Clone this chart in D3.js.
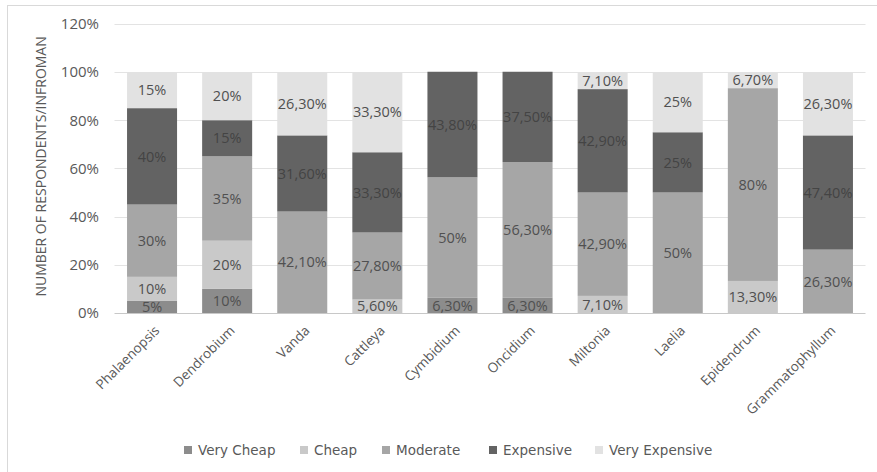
<!DOCTYPE html>
<html>
<head>
<meta charset="utf-8">
<script src="https://cdn.jsdelivr.net/npm/d3@7"></script>
<style>
  html, body { margin: 0; padding: 0; background: #fff; }
  svg { display: block; font-family: "Open Sans", "Liberation Sans", sans-serif; }
</style>
</head>
<body>
<svg id="chart" width="877" height="472"></svg>
<script>
// Orchid genera surveyed
const categories = ["Phalaenopsis", "Dendrobium", "Vanda", "Cattleya", "Cymbidium",
                    "Oncidium", "Miltonia", "Laelia", "Epidendrum", "Grammatophyllum"];

// Price perception shares (%) per genus, one array per price class
const veryCheap     = [5,  10, 0,    0,    6.3,  6.3,  0,    0,  0,    0];
const cheap         = [10, 20, 0,    5.6,  0,    0,    7.1,  0,  13.3, 0];
const moderate      = [30, 35, 42.1, 27.8, 50,   56.3, 42.9, 50, 80,   26.3];
const expensive     = [40, 15, 31.6, 33.3, 43.8, 37.5, 42.9, 25, 0,    47.4];
const veryExpensive = [15, 20, 26.3, 33.3, 0,    0,    7.1,  25, 6.7,  26.3];

const seriesNames = ["Very Cheap", "Cheap", "Moderate", "Expensive", "Very Expensive"];
const yTicks = [0, 20, 40, 60, 80, 100, 120];

const colors = ["#8c8c8c", "#c9c9c9", "#a6a6a6", "#636363", "#e2e2e2"];
const seriesValues = [veryCheap, cheap, moderate, expensive, veryExpensive];

// Rows for d3.stack
const rows = categories.map((c, i) => {
  const r = { category: c };
  seriesNames.forEach((s, k) => { r[s] = seriesValues[k][i]; });
  return r;
});
const stacked = d3.stack().keys(seriesNames)(rows);

const svg = d3.select("#chart");
const W = 877, H = 472;

// Outer chart frame (extends past the right and bottom edges)
svg.append("rect")
  .attr("x", 7.5).attr("y", 5.5)
  .attr("width", W + 10).attr("height", H + 10)
  .attr("fill", "#fff").attr("stroke", "#d9d9d9").attr("stroke-width", 1);

const plot = { left: 114.5, right: 865.5, top: 23.8, bottom: 313 };

const x = d3.scaleBand().domain(categories)
  .range([plot.left, plot.right]).paddingInner(0.334).paddingOuter(0.167);
const y = d3.scaleLinear().domain([0, 120]).range([plot.bottom, plot.top]);

// Gridlines
svg.append("g").selectAll("line").data(yTicks.filter(t => t > 0)).join("line")
  .attr("x1", plot.left).attr("x2", plot.right)
  .attr("y1", d => Math.round(y(d)) + 0.5).attr("y2", d => Math.round(y(d)) + 0.5)
  .attr("stroke", "#e3e3e3").attr("stroke-width", 1);

// Y axis labels
const yAxis = d3.axisLeft(y).tickValues(yTicks).tickFormat(d => d + "%").tickSize(0).tickPadding(0);
const yg = svg.append("g").attr("transform", `translate(99,0)`).call(yAxis);
yg.select(".domain").remove();
yg.selectAll("text").attr("fill", "#595959").style("font-size", "15px")
  .style("font-family", "'Open Sans', sans-serif");

// Stacked bars
const layers = svg.append("g").selectAll("g").data(stacked).join("g")
  .attr("fill", (d, i) => colors[i]);
layers.selectAll("rect").data(d => d.map(v => ({ v, key: d.key })))
  .join("rect")
  .attr("x", d => x(d.v.data.category))
  .attr("width", x.bandwidth())
  .attr("y", d => y(d.v[1]))
  .attr("height", d => Math.max(0, y(d.v[0]) - y(d.v[1])));

// Category axis line
svg.append("line")
  .attr("x1", plot.left).attr("x2", plot.right)
  .attr("y1", plot.bottom + 0.5).attr("y2", plot.bottom + 0.5)
  .attr("stroke", "#c8c8c8");

// Segment value labels
const fmt = v => (Number.isInteger(v) ? String(v) : v.toFixed(2).replace(".", ",")) + "%";
const labelData = [];
stacked.forEach((layer, k) => {
  layer.forEach(v => {
    const val = v[1] - v[0];
    if (val > 0) labelData.push({ cat: v.data.category, mid: (v[0] + v[1]) / 2, val, k });
  });
});
svg.append("g").selectAll("text").data(labelData).join("text")
  .attr("x", d => x(d.cat) + x.bandwidth() / 2)
  .attr("y", d => y(d.mid))
  .attr("dy", "0.36em")
  .attr("text-anchor", "middle")
  .attr("fill", d => d.k === 3 ? "#444" : "#505050")
  .style("font-size", "14.5px")
  .text(d => fmt(d.val));

// Category labels, rotated
svg.append("g").selectAll("text").data(categories).join("text")
  .attr("transform", d => `translate(${x(d) + x.bandwidth() / 2 + 5},${plot.bottom + 15}) rotate(-45)`)
  .attr("text-anchor", "end")
  .attr("dy", "0.35em")
  .attr("fill", "#595959")
  .style("font-size", "13.5px")
  .text(d => d);

// Y axis title
svg.append("text")
  .attr("transform", `translate(46,${(plot.top + plot.bottom) / 2 - 2}) rotate(-90)`)
  .attr("text-anchor", "middle")
  .attr("fill", "#595959")
  .style("font-size", "14px")
  .text("NUMBER OF RESPONDENTS/INFROMAN");

// Legend
const legendX = [184, 300, 382, 489, 595];
const lg = svg.append("g").selectAll("g").data(seriesNames).join("g")
  .attr("transform", (d, i) => `translate(${legendX[i]},450)`);
lg.append("rect").attr("x", 0).attr("y", -4).attr("width", 8).attr("height", 8)
  .attr("fill", (d, i) => colors[i]);
lg.append("text").attr("x", 14).attr("dy", "0.35em")
  .attr("fill", "#595959").style("font-size", "13.5px")
  .style("font-family", "'DejaVu Sans', sans-serif")
  .text(d => d);
</script>
</body>
</html>
